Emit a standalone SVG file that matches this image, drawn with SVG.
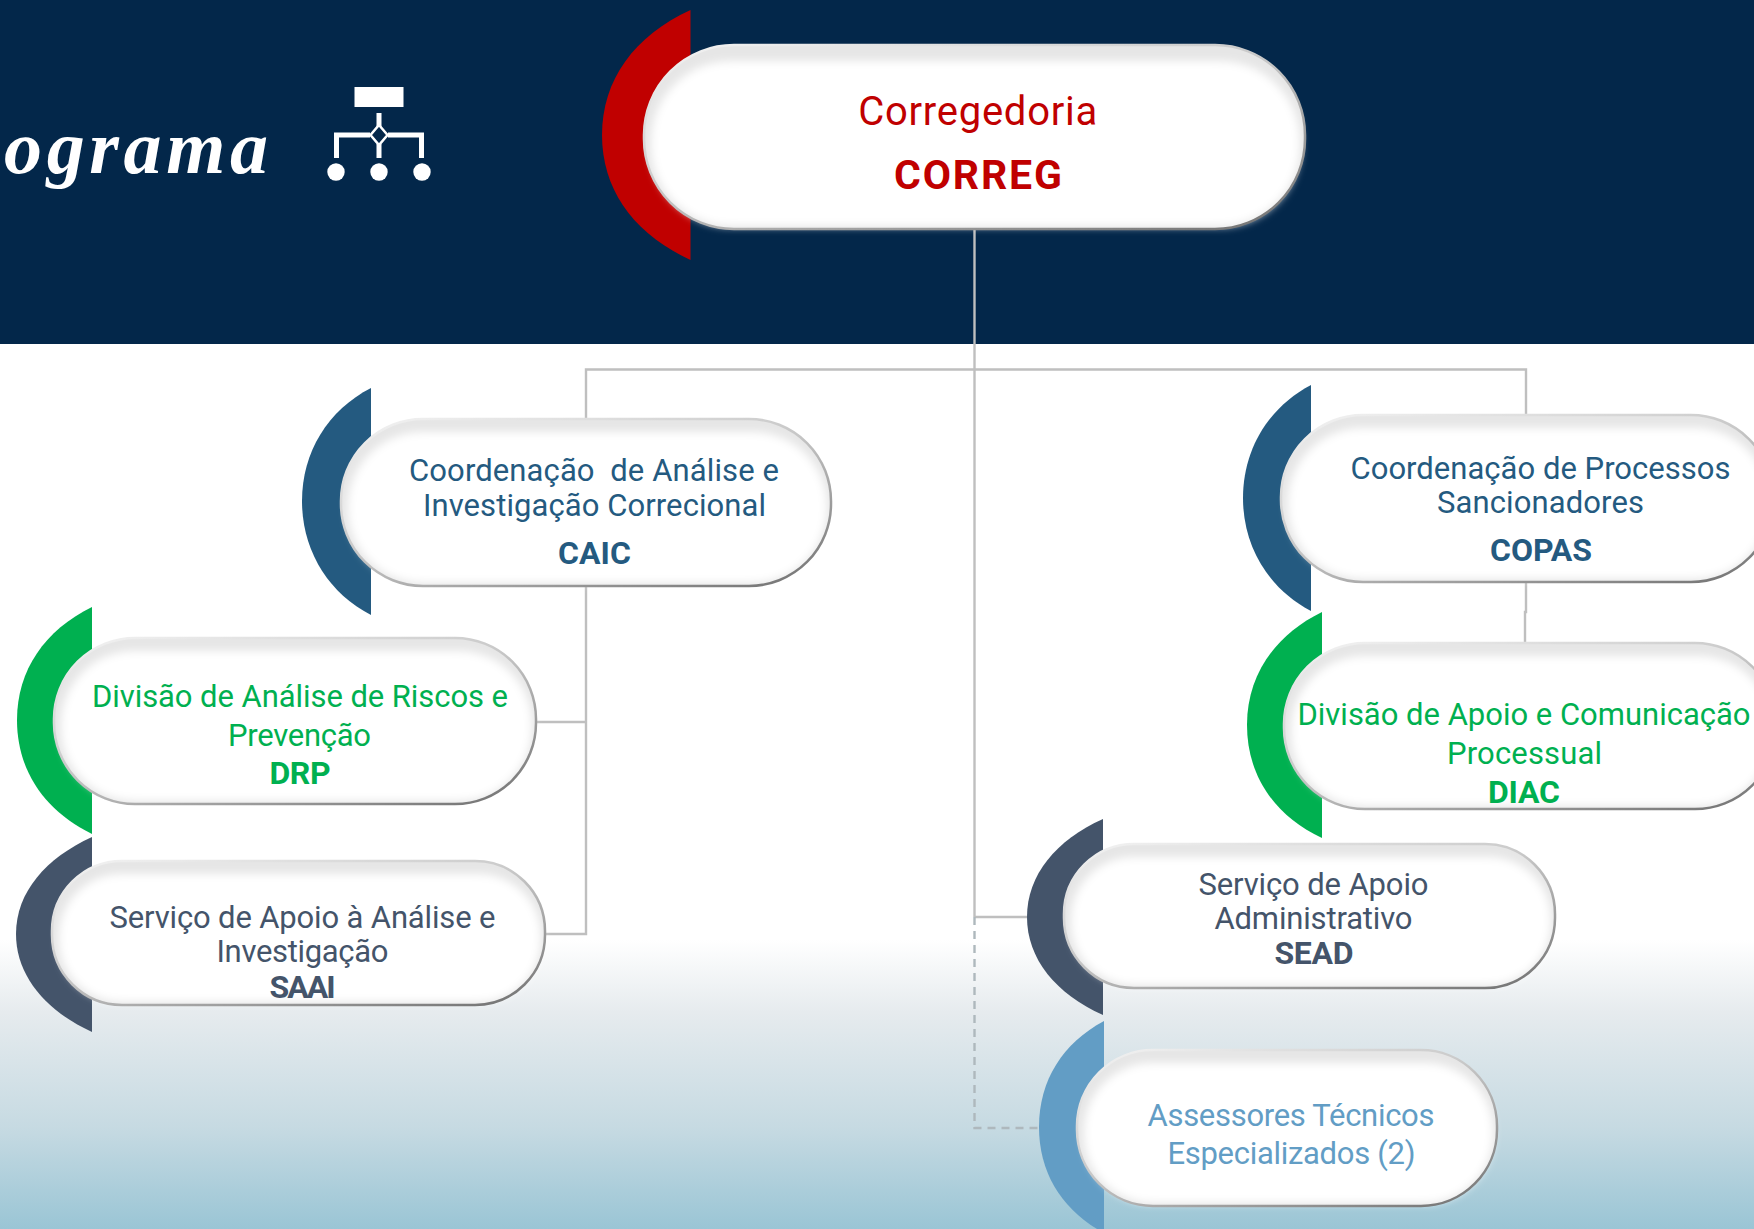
<svg xmlns="http://www.w3.org/2000/svg" width="1754" height="1229" viewBox="0 0 1754 1229">
<style>
text{font-family:Roboto,"Liberation Sans",sans-serif;text-anchor:middle;font-size:31px}
.b{font-weight:700;font-size:32px}
.base{fill:#e6e6e6}
.core{fill:#fff;filter:url(#soft)}
.edge{fill:none;stroke:url(#edge);stroke-width:2.5}
.line{fill:none;stroke:#bfbfbf;stroke-width:2.4}
.red{fill:#c00000}.blue{fill:#245a80}.green{fill:#00b050}.slate{fill:#44546a}.sky{fill:#629dc5}
</style>
<defs>
<linearGradient id="bg" gradientUnits="userSpaceOnUse" x1="0" y1="940" x2="0" y2="1229">
<stop offset="0" stop-color="#fff"/><stop offset="0.25" stop-color="#e6ebee"/><stop offset="0.65" stop-color="#c6dae2"/><stop offset="1" stop-color="#9ac5d5"/>
</linearGradient>
<linearGradient id="edge" x1="0.1" y1="0" x2="0.9" y2="1">
<stop offset="0" stop-color="#f0f0f0"/><stop offset="0.45" stop-color="#c8c8c8"/><stop offset="1" stop-color="#777"/>
</linearGradient>
<filter id="soft" x="-5%" y="-10%" width="110%" height="120%"><feGaussianBlur stdDeviation="4"/></filter>
</defs>

<rect id="background" width="1754" height="1229" fill="url(#bg)"/>
<rect id="header" width="1754" height="344" fill="#03274a"/>

<g id="title">
<text x="268" y="173" style="text-anchor:end;font-family:'Liberation Serif',serif;font-style:italic;font-weight:700;font-size:76px" fill="#fff" textLength="264">ograma</text>
</g>
<g id="icon" fill="#fff">
<rect x="354.5" y="87" width="49" height="20"/>
<path d="M379 113V127M379 144V158M370 135H336.500V158M388 135H421.500V158" fill="none" stroke="#fff" stroke-width="5"/>
<path d="M379 125L387.500 135L379 145L370.500 135Z" fill="none" stroke="#fff" stroke-width="2.500"/>
<circle cx="336" cy="172" r="8.700"/><circle cx="379" cy="172" r="8.700"/><circle cx="422" cy="172" r="8.700"/>
</g>

<g id="connectors">
<path class="line" d="M974.500 229V917"/>
<path class="line" d="M586 418V369.500H1526V414"/>
<path class="line" d="M586 586V934H545M586 722H537"/>
<path class="line" d="M1526 582V612H1525V642"/>
<path class="line" d="M974.500 917H1027"/>
<path class="line" d="M974.500 917V1128H1039" stroke-dasharray="8 6" style="stroke:#aeb8bd"/>
</g>

<g id="node-correg">
<path class="red" d="M690.500 10C634 36 602 80 602 135C602 190 634 234 690.500 260Z"/>
<rect class="base" x="644" y="45" width="661" height="184" rx="90"/>
<rect class="core" x="651" y="61" width="649" height="165" rx="80"/>
<rect class="edge" x="644" y="45" width="661" height="184" rx="90"/>
<text class="red" x="977.700" y="125" style="font-size:40px" textLength="239">Corregedoria</text>
<text class="red b" x="978" y="189" style="font-size:41px" textLength="168">CORREG</text>
</g>

<g id="node-caic">
<path class="blue" d="M371 388C328 410 302 452 302 501C302 550 328 593 371 615Z"/>
<rect class="base" x="341" y="419" width="490" height="167" rx="82"/>
<rect class="core" x="348" y="432" width="479" height="151" rx="74"/>
<rect class="edge" x="341" y="419" width="490" height="167" rx="82"/>
<text class="blue" x="594" y="481" textLength="370" xml:space="preserve">Coordenação  de Análise e</text>
<text class="blue" x="594.500" y="516" textLength="343">Investigação Correcional</text>
<text class="blue b" x="594.500" y="564" textLength="73">CAIC</text>
</g>

<g id="node-copas">
<path class="blue" d="M1311 385C1269 407 1243 449 1243 498C1243 547 1269 589 1311 611Z"/>
<rect class="base" x="1281" y="415" width="492" height="167" rx="82"/>
<rect class="core" x="1288" y="428" width="481" height="151" rx="74"/>
<rect class="edge" x="1281" y="415" width="492" height="167" rx="82"/>
<text class="blue" x="1540.500" y="479" textLength="380">Coordenação de Processos</text>
<text class="blue" x="1540.500" y="513" textLength="207">Sancionadores</text>
<text class="blue b" x="1541" y="561" textLength="102">COPAS</text>
</g>

<g id="node-drp">
<path class="green" d="M92 607C45 630 17 670 17 720C17 771 45 811 92 834Z"/>
<rect class="base" x="54" y="638" width="482" height="166" rx="81"/>
<rect class="core" x="61" y="651" width="471" height="150" rx="73"/>
<rect class="edge" x="54" y="638" width="482" height="166" rx="81"/>
<text class="green" x="300" y="707" textLength="416">Divisão de Análise de Riscos e</text>
<text class="green" x="299.500" y="746" textLength="143">Prevenção</text>
<text class="green b" x="300" y="784" textLength="61">DRP</text>
</g>

<g id="node-diac">
<path class="green" d="M1322 612C1275 635 1247 675 1247 725C1247 776 1275 816 1322 838Z"/>
<rect class="base" x="1284" y="643" width="492" height="166" rx="81"/>
<rect class="core" x="1291" y="656" width="481" height="150" rx="73"/>
<rect class="edge" x="1284" y="643" width="492" height="166" rx="81"/>
<text class="green" x="1524" y="725" textLength="453">Divisão de Apoio e Comunicação</text>
<text class="green" x="1524.500" y="764" textLength="155">Processual</text>
<text class="green b" x="1524" y="803" textLength="72">DIAC</text>
</g>

<g id="node-saai">
<path class="slate" d="M92 837C46 858 16 892 16 934C16 976 46 1011 92 1032Z"/>
<rect class="base" x="52" y="861" width="493" height="144" rx="70"/>
<rect class="core" x="59" y="874" width="482" height="128" rx="62"/>
<rect class="edge" x="52" y="861" width="493" height="144" rx="70"/>
<text class="slate" x="302.500" y="928" textLength="386">Serviço de Apoio à Análise e</text>
<text class="slate" x="302.500" y="962" textLength="172">Investigação</text>
<text class="slate b" x="302.500" y="998" textLength="66">SAAI</text>
</g>

<g id="node-sead">
<path class="slate" d="M1103 819C1056 840 1027 875 1027 917C1027 959 1056 994 1103 1015Z"/>
<rect class="base" x="1064" y="844" width="491" height="144" rx="70"/>
<rect class="core" x="1071" y="857" width="480" height="128" rx="62"/>
<rect class="edge" x="1064" y="844" width="491" height="144" rx="70"/>
<text class="slate" x="1313.500" y="895" textLength="230">Serviço de Apoio</text>
<text class="slate" x="1313.500" y="929" textLength="198">Administrativo</text>
<text class="slate b" x="1314" y="964" textLength="79">SEAD</text>
</g>

<g id="node-assessores">
<path class="sky" d="M1104 1021C1063 1043 1039 1080 1039 1127C1039 1174 1063 1211 1104 1233Z"/>
<rect class="base" x="1077" y="1050" width="420" height="156" rx="76"/>
<rect class="core" x="1084" y="1063" width="409" height="140" rx="68"/>
<rect class="edge" x="1077" y="1050" width="420" height="156" rx="76"/>
<text class="sky" x="1291" y="1126" textLength="287">Assessores Técnicos</text>
<text class="sky" x="1291.500" y="1164" textLength="248">Especializados (2)</text>
</g>
</svg>
